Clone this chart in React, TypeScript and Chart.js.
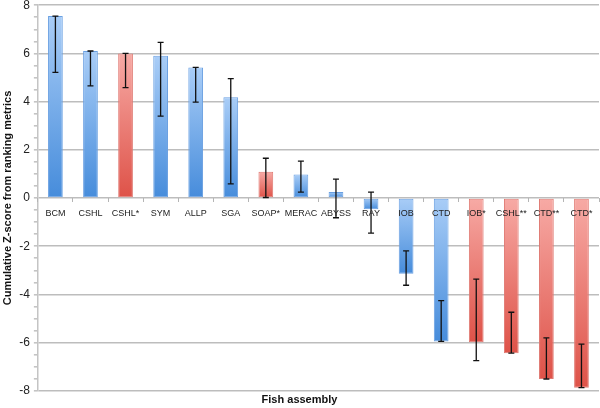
import React, { useEffect, useRef } from "react";
import { Chart, registerables } from "chart.js";

Chart.register(...registerables);

const categories = ["BCM", "CSHL", "CSHL*", "SYM", "ALLP", "SGA", "SOAP*", "MERAC", "ABYSS", "RAY", "IOB", "CTD", "IOB*", "CSHL**", "CTD**", "CTD*"];
const values = [7.55, 6.1, 6.0, 5.9, 5.42, 4.18, 1.09, 0.98, 0.25, -0.47, -3.14, -5.95, -5.99, -6.44, -7.51, -7.87];
const errHigh = [7.55, 6.1, 6.0, 6.46, 5.42, 4.95, 1.65, 1.53, 0.78, 0.24, -2.19, -4.26, -3.37, -4.74, -5.8, -6.06];
const errLow = [5.21, 4.65, 4.58, 3.4, 3.98, 0.59, 0.02, 0.24, -0.82, -1.46, -3.62, -5.95, -6.75, -6.44, -7.51, -7.87];
const isRed = [false, false, true, false, false, false, true, false, false, false, false, false, true, true, true, true];

const BLUE = { light: "#a9cdf7", dark: "#468cdb", border: "#6aa0e2" };
const RED = { light: "#f7aaa5", dark: "#de5248", border: "#e07a73" };

const FONT = "'Liberation Sans', Arial, Helvetica, sans-serif";

const errorBarPlugin = {
  id: "errorBars",
  afterDatasetsDraw(chart: any) {
    const ctx = chart.ctx;
    const meta = chart.getDatasetMeta(0);
    const y = chart.scales.y;
    ctx.save();
    ctx.strokeStyle = "#111";
    ctx.lineWidth = 1.3;
    meta.data.forEach((bar: any, i: number) => {
      const x = bar.x;
      const yh = y.getPixelForValue(errHigh[i]);
      const yl = y.getPixelForValue(errLow[i]);
      ctx.beginPath();
      ctx.moveTo(x, yh);
      ctx.lineTo(x, yl);
      ctx.moveTo(x - 3, yh);
      ctx.lineTo(x + 3, yh);
      ctx.moveTo(x - 3, yl);
      ctx.lineTo(x + 3, yl);
      ctx.stroke();
    });
    ctx.restore();
  },
};

export default function App() {
  const ref = useRef<HTMLCanvasElement>(null);
  useEffect(() => {
    const canvas = ref.current;
    if (!canvas) return;
    const chart = new Chart(canvas, {
      type: "bar",
      data: {
        labels: categories,
        datasets: [
          {
            data: values,
            backgroundColor: (c: any) => {
              const i = c.dataIndex;
              if (i === undefined) return BLUE.dark;
              const pal = isRed[i] ? RED : BLUE;
              const ch = c.chart;
              if (!ch.chartArea) return pal.dark;
              const ys = ch.scales.y;
              const p0 = ys.getPixelForValue(0);
              const p1 = ys.getPixelForValue(values[i]);
              const top = Math.min(p0, p1);
              const bot = Math.max(p0, p1);
              const g = ch.ctx.createLinearGradient(0, top, 0, bot + 0.01);
              g.addColorStop(0, pal.light);
              g.addColorStop(1, pal.dark);
              return g;
            },
            borderColor: (c: any) => (c.dataIndex !== undefined && isRed[c.dataIndex] ? RED.border : BLUE.border),
            borderWidth: 1,
            borderSkipped: false,
            barPercentage: 0.42,
            categoryPercentage: 1,
          },
        ],
      },
      options: {
        animation: false,
        responsive: true,
        maintainAspectRatio: false,
        layout: { padding: { top: 0, right: 1, left: 0, bottom: 0 } },
        plugins: {
          legend: { display: false },
          tooltip: { enabled: false },
          title: {
            display: true,
            position: "bottom",
            text: "Fish assembly",
            color: "#111",
            font: { family: FONT, size: 11, weight: "bold" },
            padding: { top: 3, bottom: 1 },
          },
        },
        scales: {
          x: {
            position: { y: 0 } as any,
            grid: {
              offset: true,
              drawOnChartArea: false,
              drawTicks: true,
              tickLength: 4,
              tickColor: "#b5b5b5",
              color: "#b5b5b5",
              z: 1,
            },
            border: { display: false },
            ticks: {
              z: 1,
              color: "#222",
              font: { family: FONT, size: 9 },
              padding: 6,
              maxRotation: 0,
              autoSkip: false,
            },
          },
          y: {
            min: -8,
            max: 8,
            grid: {
              color: (c: any) => (c.tick && Math.abs(c.tick.value % 2) < 1e-9 ? "#bdbdbd" : "rgba(0,0,0,0)"),
              tickColor: "#c4c4c4",
              lineWidth: 1.6,
              tickLength: 4,
            },
            border: { display: true, color: "#c4c4c4", width: 1.5 },
            ticks: {
              stepSize: 0.5,
              autoSkip: false,
              color: "#222",
              padding: 4,
              font: { family: FONT, size: 12 },
              callback: (v: any) => (Math.abs(v % 2) < 1e-9 ? String(v) : ""),
            },
            title: {
              display: true,
              text: "Cumulative Z-score from ranking metrics",
              color: "#111",
              font: { family: FONT, size: 11, weight: "bold" },
              padding: { top: 1, bottom: 1 },
            },
          },
        },
      } as any,
      plugins: [errorBarPlugin],
    });
    return () => chart.destroy();
  }, []);
  return (
    <div style={{ position: "absolute", left: 0, top: -6, width: 600, height: 414, background: "#fff" }}>
      <canvas ref={ref} />
    </div>
  );
}
